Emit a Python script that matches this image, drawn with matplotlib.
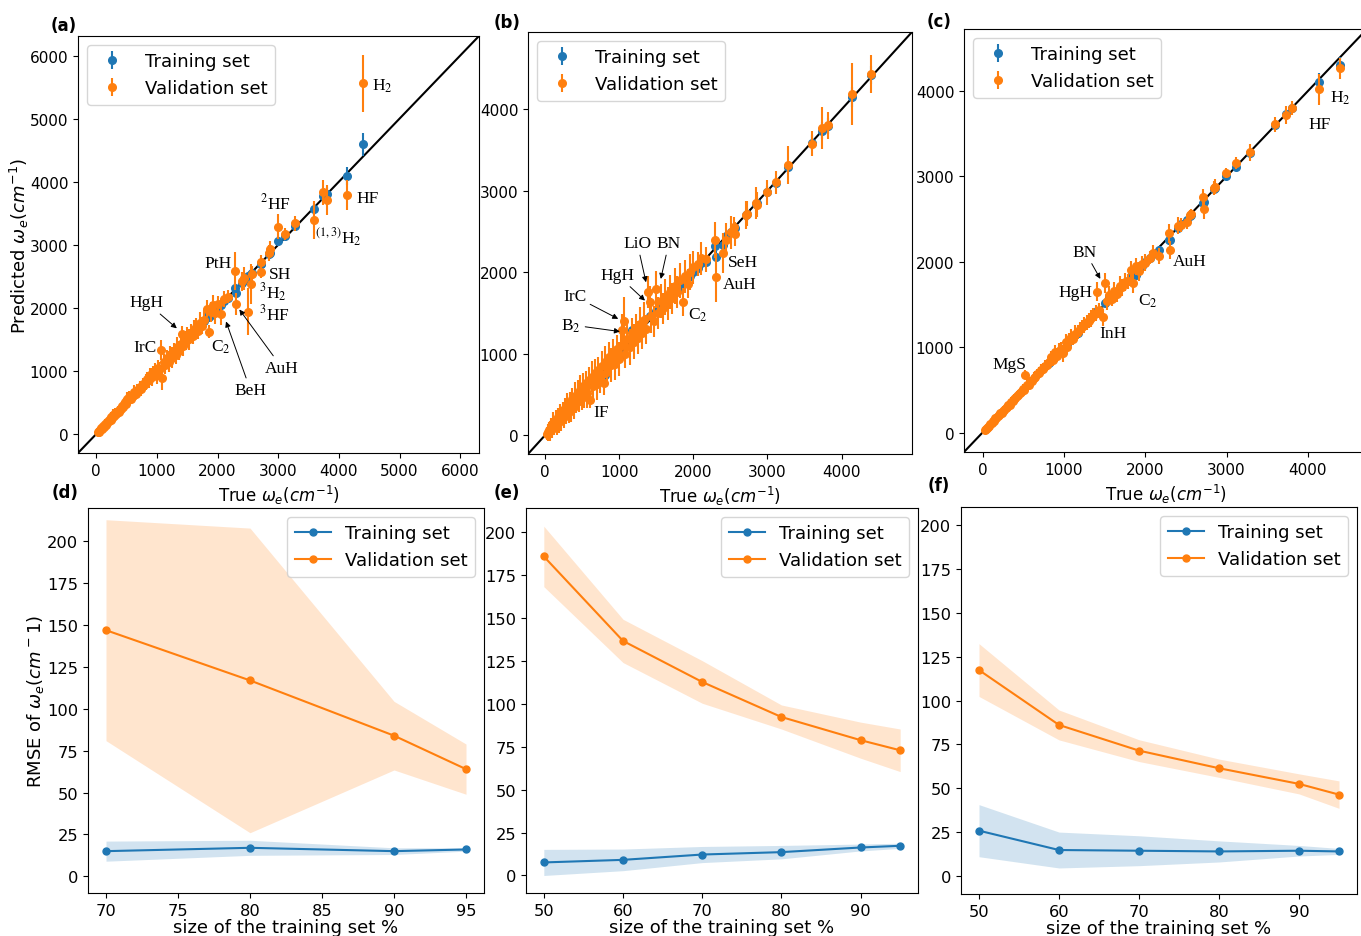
import numpy as np
import matplotlib
matplotlib.use("Agg")
import matplotlib.pyplot as plt

# true harmonic frequencies (cm-1), same molecules in (a)-(c)
we_true = [25, 38, 52, 66, 80, 96, 113, 127, 142, 158,
           171, 186, 204, 219, 236, 251, 268, 284, 301, 317,
           333, 352, 369, 385, 404, 421, 440, 458, 477, 496,
           512, 528, 547, 566, 588, 610, 629, 651, 674, 697,
           720, 744, 768, 792, 815, 840, 866, 891, 917, 943,
           968, 995, 1020, 1040, 1060, 1085, 1112, 1140, 1168, 1196,
           1224, 1252, 1280, 1308, 1336, 1362, 1390, 1410, 1432, 1476,
           1502, 1530, 1560, 1590, 1620, 1652, 1685, 1718, 1750, 1785,
           1820, 1855, 1890, 1925, 1960, 2000, 2060, 2100, 2170, 2290,
           2305, 2400, 2443, 2510, 2548, 2560, 2712, 2720, 2850, 2862,
           2998, 3114, 3283, 3597, 3737, 3811, 4138, 4401]

val_a = [30, 45, 40, 72, 95, 88, 125, 120, 160, 150,
         185, 175, 215, 230, 225, 270, 255, 300, 290, 335,
         320, 370, 355, 400, 390, 440, 425, 470, 505, 480,
         560, 540, 580, 555, 610, 600, 660, 640, 700, 690,
         740, 720, 790, 770, 830, 880, 850, 930, 900, 960,
         1000, 940, 1050, 1010, 1330, 885, 1140, 1100, 1200, 1150,
         1260, 1210, 1300, 1250, 1380, 1320, 1420, 1590, 1400, 1480,
         1560, 1500, 1600, 1560, 1650, 1690, 1640, 1760, 1720, 1810,
         1990, 1625, 1940, 2050, 1920, 2060, 1910, 2140, 2180, 2580,
         2060, 2420, 2470, 1940, 2380, 2540, 2575, 2725, 2870, 2930,
         3285, 3170, 3340, 3400, 3830, 3710, 3790, 5560]
err_a = [50, 60, 55, 70, 60, 65, 70, 60, 75, 65,
         70, 80, 60, 75, 70, 80, 65, 90, 70, 75,
         80, 70, 85, 75, 90, 80, 70, 95, 85, 80,
         100, 90, 110, 80, 95, 100, 120, 90, 100, 110,
         95, 120, 100, 110, 130, 100, 120, 110, 140, 120,
         130, 150, 120, 140, 160, 180, 130, 150, 140, 160,
         130, 170, 150, 140, 160, 150, 140, 130, 160, 150,
         140, 170, 150, 130, 160, 150, 140, 170, 130, 150,
         140, 100, 160, 150, 170, 130, 180, 120, 100, 300,
         180, 150, 180, 370, 320, 120, 100, 120, 120, 130,
         200, 100, 120, 300, 200, 240, 240, 450]

val_b = [20, 35, 70, 55, 110, 80, 150, 100, 190, 140,
         230, 160, 260, 200, 300, 230, 330, 260, 370, 290,
         400, 320, 440, 350, 480, 400, 520, 420, 560, 460,
         600, 500, 640, 520, 680, 437, 720, 600, 760, 630,
         800, 700, 850, 640, 900, 780, 960, 860, 1000, 880,
         1060, 940, 1100, 1286, 1408, 1000, 1180, 1080, 1250, 1150,
         1310, 1200, 1360, 1250, 1420, 1300, 1756, 1634, 1470, 1400,
         1790, 1500, 1650, 1560, 1700, 1620, 1760, 1680, 1830, 1760,
         1900, 1633, 1950, 1860, 2000, 2060, 2100, 2170, 2160, 2400,
         1939, 2237, 2400, 2490, 2559, 2470, 2702, 2720, 2849, 2830,
         2980, 3103, 3318, 3580, 3771, 3804, 4192, 4437]
err_b = [80, 100, 90, 120, 100, 110, 130, 100, 120, 140,
         110, 130, 120, 150, 110, 140, 130, 120, 150, 140,
         130, 160, 140, 150, 170, 130, 160, 140, 180, 150,
         160, 170, 150, 180, 160, 100, 190, 150, 170, 200,
         160, 180, 190, 150, 200, 170, 190, 210, 180, 200,
         170, 210, 190, 200, 290, 180, 200, 220, 190, 210,
         180, 200, 220, 190, 210, 180, 200, 200, 220, 190,
         230, 200, 210, 190, 220, 200, 210, 190, 220, 200,
         210, 170, 200, 180, 220, 200, 150, 200, 150, 220,
         300, 250, 200, 200, 120, 150, 170, 150, 200, 150,
         150, 140, 230, 150, 260, 170, 380, 230]

val_c = [25, 40, 50, 70, 78, 100, 110, 132, 140, 165,
         168, 192, 200, 225, 232, 258, 262, 292, 298, 325,
         328, 362, 365, 395, 400, 430, 435, 468, 470, 505,
         500, 679, 560, 560, 600, 605, 640, 645, 690, 700,
         730, 750, 780, 790, 830, 880, 850, 940, 900, 960,
         980, 930, 1060, 1000, 1080, 1120, 1100, 1160, 1180, 1210,
         1240, 1260, 1290, 1310, 1340, 1370, 1400, 1651, 1430, 1351,
         1753, 1540, 1610, 1570, 1660, 1620, 1720, 1700, 1760, 1770,
         1900, 1753, 1950, 1890, 1980, 1990, 2050, 2100, 2066, 2334,
         2139, 2424, 2430, 2466, 2549, 2560, 2756, 2620, 2865, 2880,
         3041, 3154, 3283, 3611, 3720, 3802, 4021, 4267]
err_c = [30, 40, 35, 40, 45, 35, 40, 50, 40, 45,
         50, 40, 45, 55, 40, 50, 45, 55, 50, 45,
         55, 50, 45, 60, 50, 55, 60, 50, 55, 60,
         60, 50, 65, 60, 55, 60, 65, 70, 60, 65,
         70, 60, 75, 65, 80, 70, 75, 80, 70, 90,
         80, 100, 90, 80, 85, 90, 80, 95, 85, 90,
         80, 95, 90, 85, 100, 90, 95, 110, 90, 100,
         120, 100, 110, 90, 100, 95, 110, 100, 105, 90,
         110, 120, 100, 110, 90, 100, 80, 100, 90, 110,
         110, 100, 80, 80, 60, 60, 100, 120, 80, 90,
         60, 70, 100, 90, 100, 80, 180, 120]

# training-set predictions (most are hidden under the validation points)
tr_true = [815, 1040, 1168, 1280, 1410, 1502, 1560, 1652, 1785, 1820,
           1855, 1890, 1925, 1960, 2000, 2060, 2100, 2170, 2290, 2305,
           2400, 2443, 2510, 2548, 2560, 2712, 2720, 2850, 2862, 2998,
           3114, 3283, 3597, 3737, 3811, 4138, 4401]
tr_a = [820, 1035, 1170, 1275, 1420, 1500, 1555, 1660, 1790, 1885,
        1850, 1880, 1930, 1955, 2010, 2050, 2110, 2160, 2320, 2240,
        2390, 2440, 2500, 2540, 2550, 2700, 2690, 2860, 2870, 3055,
        3140, 3300, 3567, 3770, 3800, 4091, 4593]
tr_err_a = [30, 35, 40, 35, 40, 45, 40, 45, 50, 60, 50, 45, 50, 55, 50, 60, 55, 50, 70,
            60, 55, 60, 50, 60, 55, 60, 70, 60, 65, 80, 60, 70, 100, 110, 120, 150, 180]
tr_b = [735, 990, 1290, 1290, 1460, 1530, 1600, 1640, 1770, 1830,
        1880, 1900, 1940, 1950, 2010, 2050, 2120, 2130, 2318, 2192,
        2330, 2440, 2500, 2540, 2550, 2700, 2710, 2840, 2850, 2990,
        3100, 3290, 3590, 3740, 3800, 4155, 4420]
tr_err_b = [40, 45, 50, 45, 50, 55, 50, 55, 60, 60, 55, 60, 55, 60, 55, 70, 65, 60, 80,
            70, 65, 60, 70, 65, 60, 70, 80, 70, 75, 70, 70, 80, 90, 100, 100, 120, 110]
tr_c = [815, 1040, 1165, 1285, 1420, 1520, 1590, 1650, 1780, 1830,
        1835, 1850, 1920, 1950, 2000, 2050, 2090, 2139, 2256, 2260,
        2400, 2440, 2490, 2540, 2550, 2690, 2700, 2850, 2860, 3010,
        3110, 3280, 3600, 3730, 3800, 4110, 4306]
tr_err_c = [25, 30, 35, 30, 35, 40, 35, 40, 40, 45, 40, 45, 40, 45, 40, 50, 45, 40, 55,
            50, 45, 40, 45, 50, 45, 50, 55, 50, 55, 50, 50, 55, 60, 60, 60, 100, 90]

# learning curves: RMSE mean and std
size_d = [70, 80, 90, 95]
rmse_tr_d = [15, 17, 15, 16]
sd_tr_d = [6, 4.5, 2, 1]
rmse_va_d = [147, 117, 84, 64]
sd_va_d = [66, 91, 20.5, 15]

size_e = [50, 60, 70, 80, 90, 95]
rmse_tr_e = [7.6, 9.1, 12.2, 13.6, 16.3, 17.3]
sd_tr_e = [7.6, 6.3, 4.7, 3.9, 2, 1.5]
rmse_va_e = [185.8, 136.6, 112.7, 92.3, 78.8, 72.9]
sd_va_e = [17.6, 12.6, 12.4, 7, 10.5, 12.4]

size_f = [50, 60, 70, 80, 90, 95]
rmse_tr_f = [26, 15, 14.6, 14.2, 14.6, 14.2]
sd_tr_f = [14.8, 10.2, 8.5, 6, 3, 1.7]
rmse_va_f = [117.3, 86.1, 71.5, 61.5, 52.6, 46.5]
sd_va_f = [15, 8.5, 6.2, 5.2, 5.7, 7.8]

W, H = 1361.0, 937.0
fig = plt.figure(figsize=(W / 100, H / 100), dpi=100)


def box(l, t, r, b):
    return [l / W, 1 - b / H, (r - l) / W, (b - t) / H]


def parity(ax, trp, tre, vap, vae, lim, ticks):
    ax.plot([-1000, 8000], [-1000, 8000], color="k", lw=1.5, zorder=1)
    ax.errorbar(tr_true, trp, yerr=tre, fmt="o", ms=5.5, elinewidth=1.5,
                color="C0", label="Training set", zorder=2)
    ax.errorbar(we_true, vap, yerr=vae, fmt="o", ms=5.5, elinewidth=1.5,
                color="C1", label="Validation set", zorder=3)
    ax.set_xlim(lim)
    ax.set_ylim(lim)
    ax.set_xticks(ticks)
    ax.set_yticks(ticks)
    ax.tick_params(labelsize=11)
    ax.set_xlabel(r"True $\omega_e (cm^{-1})$", fontsize=12)
    ax.legend(loc="upper left", fontsize=13)


def note(ax, s, x, y, tip=None, ha="left"):
    kw = dict(fontsize=12.5, family="Liberation Serif", math_fontfamily="stix",
              ha=ha, va="center", zorder=5)
    if tip is None:
        ax.text(x, y, s, **kw)
    else:
        ax.annotate(s, xy=tip, xytext=(x, y),
                    arrowprops=dict(arrowstyle="-|>", color="k", lw=0.7,
                                    mutation_scale=8, shrinkA=1, shrinkB=0), **kw)


def curve(ax, x, tr, tsd, va, vsd, ylim):
    x = np.array(x)
    tr, tsd, va, vsd = map(np.array, (tr, tsd, va, vsd))
    ax.plot(x, tr, "o-", color="C0", ms=5, label="Training set")
    ax.fill_between(x, tr - tsd, tr + tsd, color="C0", alpha=0.2, lw=0)
    ax.plot(x, va, "o-", color="C1", ms=5, label="Validation set")
    ax.fill_between(x, va - vsd, va + vsd, color="C1", alpha=0.2, lw=0)
    ax.set_ylim(ylim)
    ax.set_yticks(np.arange(0, 201, 25))
    ax.tick_params(labelsize=11.7)
    ax.set_xlabel("size of the training set %", fontsize=13, labelpad=0.5)
    ax.legend(loc="upper right", fontsize=13)


ax_a = fig.add_axes(box(78, 37, 479, 454))
ax_b = fig.add_axes(box(528, 33, 912, 455))
ax_c = fig.add_axes(box(964, 30, 1367, 453))
ax_d = fig.add_axes(box(88, 509, 484, 894))
ax_e = fig.add_axes(box(526, 509, 918, 894))
ax_f = fig.add_axes(box(961, 508, 1357, 895))

parity(ax_a, tr_a, tr_err_a, val_a, err_a, (-300, 6310), range(0, 6001, 1000))
ax_a.set_ylabel(r"Predicted $\omega_e (cm^{-1})$", fontsize=13)
ax_a.yaxis.set_label_coords(-0.117, 0.5)
note(ax_a, "H$_2$", 4541, 5533)
note(ax_a, "HF", 4283, 3737)
note(ax_a, "$^2$HF", 2702, 3674)
note(ax_a, "$^{(1,3)}$H$_2$", 3608, 3130)
note(ax_a, "PtH", 1780, 2706)
note(ax_a, "SH", 2839, 2532)
note(ax_a, "$^3$H$_2$", 2690, 2258)
note(ax_a, "$^3$HF", 2690, 1914)
note(ax_a, "IrC", 988, 1385, ha="right")
note(ax_a, "C$_2$", 1889, 1385)
note(ax_a, "HgH", 550, 2088, tip=(1329, 1676))
note(ax_a, "AuH", 2784, 1052, tip=(2360, 1975))
note(ax_a, "BeH", 2278, 698, tip=(2140, 1785))

parity(ax_b, tr_b, tr_err_b, val_b, err_b, (-230, 4950), range(0, 4001, 1000))
note(ax_b, "LiO", 1054, 2360, tip=(1362, 1878))
note(ax_b, "BN", 1507, 2360, tip=(1561, 1919))
note(ax_b, "HgH", 748, 1968, tip=(1348, 1653))
note(ax_b, "IrC", 241, 1707, tip=(987, 1429))
note(ax_b, "B$_2$", 220, 1355, tip=(1010, 1273))
note(ax_b, "SeH", 2463, 2123)
note(ax_b, "AuH", 2396, 1858)
note(ax_b, "C$_2$", 1935, 1490)
note(ax_b, "IF", 648, 286)

parity(ax_c, tr_c, tr_err_c, val_c, err_c, (-228, 4727), range(0, 4001, 1000))
note(ax_c, "BN", 1111, 2119, tip=(1448, 1800))
note(ax_c, "HgH", 939, 1644)
note(ax_c, "InH", 1440, 1167)
note(ax_c, "C$_2$", 1912, 1554)
note(ax_c, "AuH", 2343, 2014)
note(ax_c, "MgS", 119, 804)
note(ax_c, "HF", 4004, 3615)
note(ax_c, "H$_2$", 4271, 3927)

curve(ax_d, size_d, rmse_tr_d, sd_tr_d, rmse_va_d, sd_va_d, (-10, 220))
ax_d.set_ylabel(r"RMSE of $\omega_e (cm^-1)$", fontsize=13)
ax_d.yaxis.set_label_coords(-0.106, 0.5)
curve(ax_e, size_e, rmse_tr_e, sd_tr_e, rmse_va_e, sd_va_e, (-10.2, 214))
curve(ax_f, size_f, rmse_tr_f, sd_tr_f, rmse_va_f, sd_va_f, (-10, 210))

for lab, x, y in [("(a)", 64, 26), ("(b)", 507, 23), ("(c)", 939, 22),
                  ("(d)", 65, 493), ("(e)", 507, 493), ("(f)", 939, 486)]:
    fig.text(x / W, 1 - y / H, lab, fontsize=12, fontweight="bold",
             ha="center", va="center")

fig.savefig("out.png", dpi=100)
